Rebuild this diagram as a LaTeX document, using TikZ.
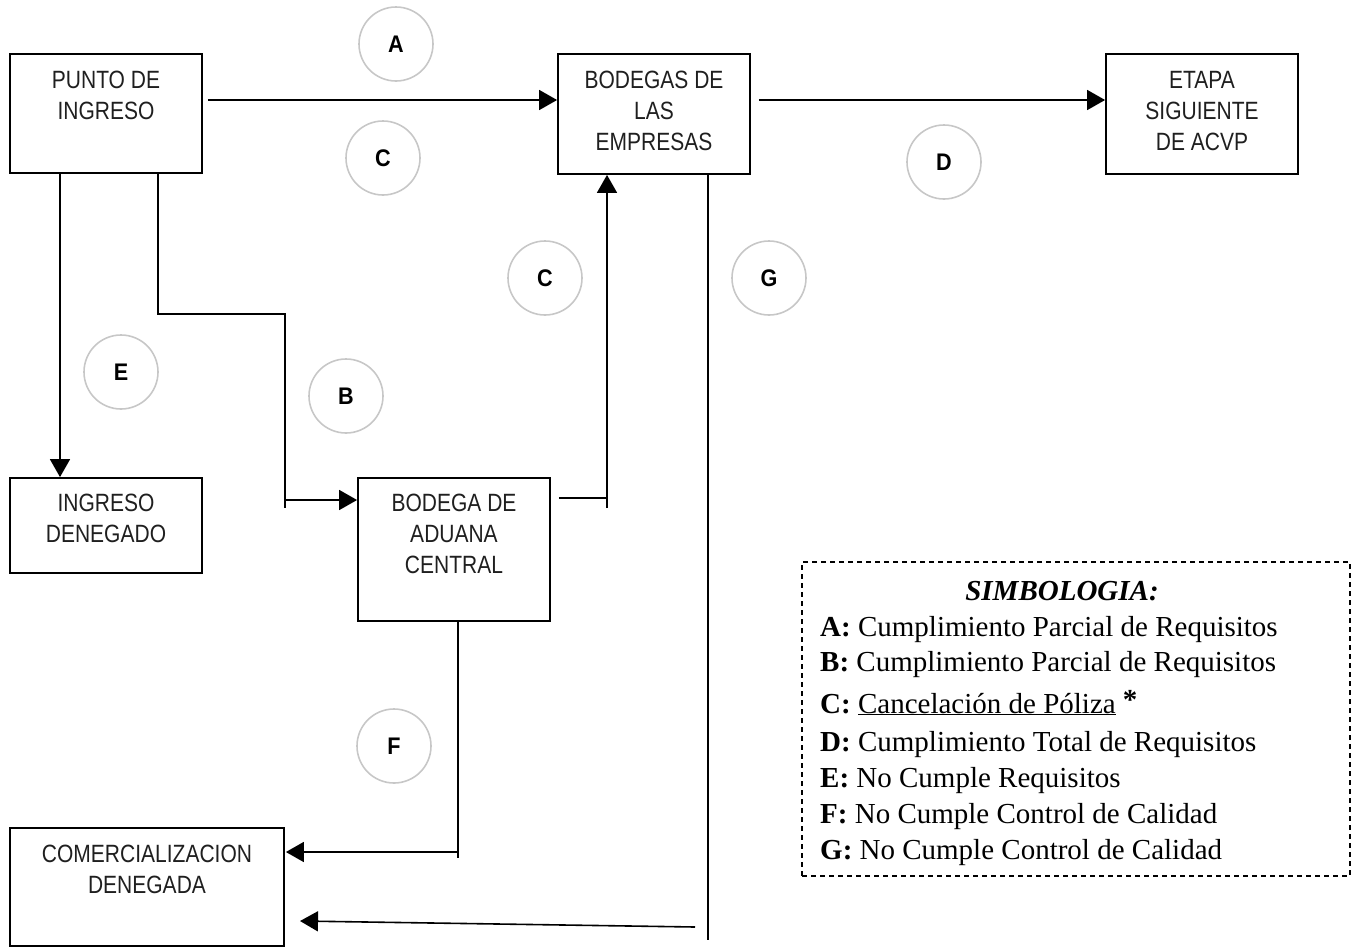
\documentclass[tikz,border=0pt]{standalone}
\usepackage{fontspec}
\setmainfont{Liberation Serif}
\newfontfamily\boxfont[FakeStretch=0.84]{Liberation Sans}
\newfontfamily\circfont[FakeStretch=0.9]{Liberation Sans}
\newcommand\circtxt[1]{{\circfont\bfseries\fontsize{24}{26}\selectfont #1}}
\usetikzlibrary{arrows.meta,calc}
\begin{document}
\begin{tikzpicture}[x=1pt,y=-1pt,
  box/.style={draw, line width=1.8pt, rectangle, inner sep=0pt},
  btxt/.style={font=\boxfont\fontsize{25}{31}\selectfont, align=center, text=black!88, inner sep=0pt, anchor=north},
  lbl/.style={circle, draw=black!22, line width=1.6pt, minimum size=74pt, inner sep=0pt},
  ln/.style={line width=1.6pt},
  arr/.style={line width=1.6pt, -{Triangle[length=18pt,width=20pt]}},
  legtxt/.style={font=\fontsize{29}{36}\selectfont, anchor=base west, inner sep=0pt}
]
\useasboundingbox (0,0) rectangle (1357,948);

% boxes
\node[box, minimum width=192, minimum height=119] (pi) at (106,113.5) {};
\node[box, minimum width=192, minimum height=120] (be) at (654,114) {};
\node[box, minimum width=192, minimum height=120] (et) at (1202,114) {};
\node[box, minimum width=192, minimum height=95] (id) at (106,525.5) {};
\node[box, minimum width=192, minimum height=143] (ba) at (454,549.5) {};
\node[box, minimum width=274, minimum height=118] (cd) at (147,887) {};

\node[btxt] (tpi) at ($(pi.north)+(0,18)$) {PUNTO DE\\INGRESO};
\node[btxt] (tbe) at ($(be.north)+(0,18)$) {BODEGAS DE\\LAS\\EMPRESAS};
\node[btxt] (tet) at ($(et.north)+(0,18)$) {ETAPA\\SIGUIENTE\\DE ACVP};
\node[btxt] (tid) at ($(id.north)+(0,17)$) {INGRESO\\DENEGADO};
\node[btxt] (tba) at ($(ba.north)+(0,17)$) {BODEGA DE\\ADUANA\\CENTRAL};
\node[btxt] (tcd) at ($(cd.north)+(0,18)$) {COMERCIALIZACION\\DENEGADA};

% helper coordinates
\coordinate (yA) at (0,100);
\coordinate (xE) at (60,0);
\coordinate (b1) at (158,314);
\coordinate (b2) at (285,314);
\coordinate (b3) at (285,508);
\coordinate (b4) at (285,500);
\coordinate (c1) at (607,508);
\coordinate (c2) at (607,498);
\coordinate (g1) at (708,940);
\coordinate (g2) at (695,927);
\coordinate (g3) at (300,921);
\coordinate (f1) at (458,858);
\coordinate (f2) at (458,852);

% connectors
\draw[arr] ([xshift=5pt]pi.east |- yA) -- (be.west |- yA);
\draw[arr] ([xshift=8pt]be.east |- yA) -- (et.west |- yA);
\draw[arr] (pi.south -| xE) -- (id.north -| xE);
\draw[ln] (pi.south -| b1) -- (b1) -- (b2) -- (b3);
\draw[arr] (b4) -- (ba.west |- b4);
\draw[ln] ([xshift=8pt]ba.east |- c2) -- (c2);
\draw[arr] (c1) -- (be.south -| c1);
\draw[ln] (be.south -| g1) -- (g1);
\draw[arr] (g2) -- (g3);
\draw[ln] (ba.south -| f1) -- (f1);
\draw[arr] (f2) -- ([xshift=1pt]cd.east |- f2);

% labels
\node[lbl] (lA) at (396,44) {\circtxt{A}};
\node[lbl] (lC1) at (383,158) {\circtxt{C}};
\node[lbl] (lD) at (944,162) {\circtxt{D}};
\node[lbl] (lC2) at (545,278) {\circtxt{C}};
\node[lbl] (lG) at (769,278) {\circtxt{G}};
\node[lbl] (lE) at (121,372) {\circtxt{E}};
\node[lbl] (lB) at (346,396) {\circtxt{B}};
\node[lbl] (lF) at (394,746) {\circtxt{F}};

% legend
\node[draw, line width=1.4pt, dash pattern=on 5pt off 4pt, minimum width=548, minimum height=314, inner sep=0pt] (leg) at (1076,719) {};
\node[font=\fontsize{29}{36}\selectfont\bfseries\itshape, anchor=base, inner sep=0pt] (lt) at (1062,600) {SIMBOLOGIA:};
\node[legtxt] (l1) at (820,636) {\textbf{A:} Cumplimiento Parcial de Requisitos};
\node[legtxt] (l2) at (820,671) {\textbf{B:} Cumplimiento Parcial de Requisitos};
\node[legtxt] (l3) at (820,713) {\textbf{C:} \underline{Cancelación de Póliza} \raisebox{4pt}{\textbf{*}}};
\node[legtxt] (l4) at (820,751) {\textbf{D:} Cumplimiento Total de Requisitos};
\node[legtxt] (l5) at (820,787) {\textbf{E:} No Cumple Requisitos};
\node[legtxt] (l6) at (820,823) {\textbf{F:} No Cumple Control de Calidad};
\node[legtxt] (l7) at (820,859) {\textbf{G:} No Cumple Control de Calidad};
\end{tikzpicture}
\end{document}
